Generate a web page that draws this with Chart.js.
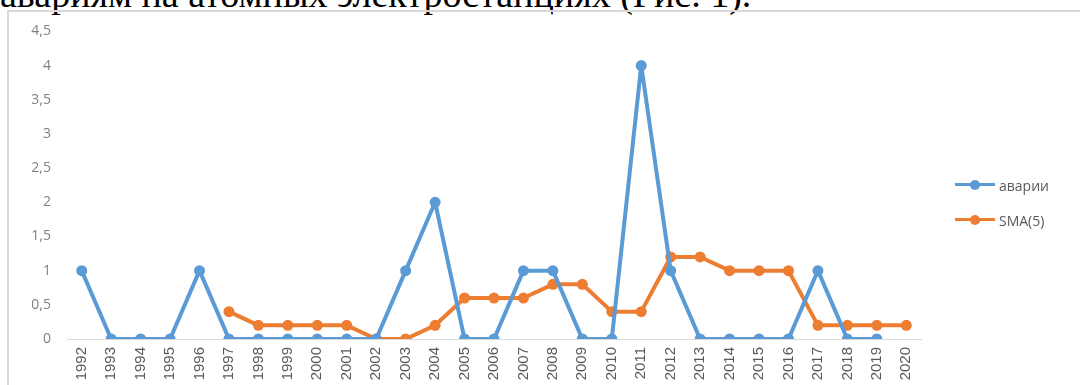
<!DOCTYPE html>
<html>
<head>
<meta charset="utf-8">
<script src="https://cdn.jsdelivr.net/npm/chart.js@4"></script>
<style>
  html, body { margin: 0; padding: 0; background: #fff; overflow: hidden; }
  body { width: 1080px; height: 385px; position: relative; }
  .caption {
    position: absolute; left: 0; top: -25px; white-space: nowrap;
    font: 38px/38px "Liberation Serif", "Times New Roman", serif; color: #000;
  }
  .frame {
    position: absolute; left: 7px; top: 10px; width: 1080px; height: 380px;
    border-left: 2px solid #d9d9d9; border-top: 2px solid #d9d9d9;
  }
  .chart-box { position: absolute; left: 7px; top: 7px; width: 1073px; height: 378px; }
  .legend {
    position: absolute; left: 955px; top: 176px;
    font: 14px "Open Sans", sans-serif; color: #595959;
  }
  .legend .item { display: flex; align-items: center; height: 18px; margin-bottom: 17px; }
  .legend .swatch { position: relative; width: 40px; height: 18px; margin-right: 4px; }
  .legend .swatch .ln { position: absolute; left: 0; right: 0; top: 7px; height: 3px; }
  .legend .swatch .dot { position: absolute; left: 15px; top: 4px; width: 10px; height: 10px; border-radius: 50%; }
</style>
</head>
<body>
<div class="caption">авариям на атомных электростанциях (Рис. 1).</div>
<div class="frame"></div>
<div class="chart-box"><canvas id="accChart" width="1073" height="378"></canvas></div>
<div class="legend" id="legend"></div>

<script>
// Years on the category axis
const years = ['1992', '1993', '1994', '1995', '1996', '1997', '1998', '1999', '2000', '2001',
  '2002', '2003', '2004', '2005', '2006', '2007', '2008', '2009', '2010', '2011',
  '2012', '2013', '2014', '2015', '2016', '2017', '2018', '2019', '2020'];

// Number of accidents per year
const accidents = [1, 0, 0, 0, 1, 0, 0, 0, 0, 0,
  0, 1, 2, 0, 0, 1, 1, 0, 0, 4,
  1, 0, 0, 0, 0, 1, 0, 0, null];

// Simple moving average over 5 years
const sma5 = [null, null, null, null, null, 0.4, 0.2, 0.2, 0.2, 0.2,
  0, 0, 0.2, 0.6, 0.6, 0.6, 0.8, 0.8, 0.4, 0.4,
  1.2, 1.2, 1, 1, 1, 0.2, 0.2, 0.2, 0.2];

const seriesNames = ['аварии', 'SMA(5)'];
const seriesColors = ['#5b9bd5', '#ed7d31'];

const makeSet = (label, data, color) => ({
  label,
  data,
  borderColor: color,
  backgroundColor: color,
  borderWidth: 4,
  borderJoinStyle: 'round',
  borderCapStyle: 'round',
  pointRadius: 5.5,
  pointHoverRadius: 5.5,
  pointBorderWidth: 0,
  tension: 0,
  spanGaps: false
});

new Chart(document.getElementById('accChart'), {
  type: 'line',
  data: {
    labels: years,
    datasets: [
      makeSet(seriesNames[0], accidents, seriesColors[0]),
      makeSet(seriesNames[1], sma5, seriesColors[1])
    ]
  },
  options: {
    responsive: false,
    animation: false,
    layout: { padding: { top: 11, right: 159, left: 0, bottom: 0 } },
    plugins: { legend: { display: false }, tooltip: { enabled: false } },
    scales: {
      x: {
        offset: true,
        grid: { display: false, drawTicks: false },
        border: { display: true, color: '#d9d9d9', width: 1 },
        ticks: {
          minRotation: 90, maxRotation: 90, autoSkip: false, padding: 8,
          color: '#595959', font: { family: 'Liberation Sans', size: 15 }
        },
        afterFit: s => { s.height = 46; }
      },
      y: {
        min: 0, max: 4.5,
        grid: { display: false, drawTicks: false },
        border: { display: false },
        ticks: {
          stepSize: 0.5, padding: 16, color: '#808080',
          font: { family: 'Open Sans', size: 14 },
          callback: v => String(v).replace('.', ',')
        },
        afterFit: s => { s.width = 60; }
      }
    }
  }
});

// Legend: line sample with a marker, then the series name
const legend = document.getElementById('legend');
seriesNames.forEach((name, i) => {
  const item = document.createElement('div');
  item.className = 'item';
  item.innerHTML = '<div class="swatch"><div class="ln" style="background:' + seriesColors[i] +
    '"></div><div class="dot" style="background:' + seriesColors[i] + '"></div></div><span>' + name + '</span>';
  legend.appendChild(item);
});
</script>
</body>
</html>
